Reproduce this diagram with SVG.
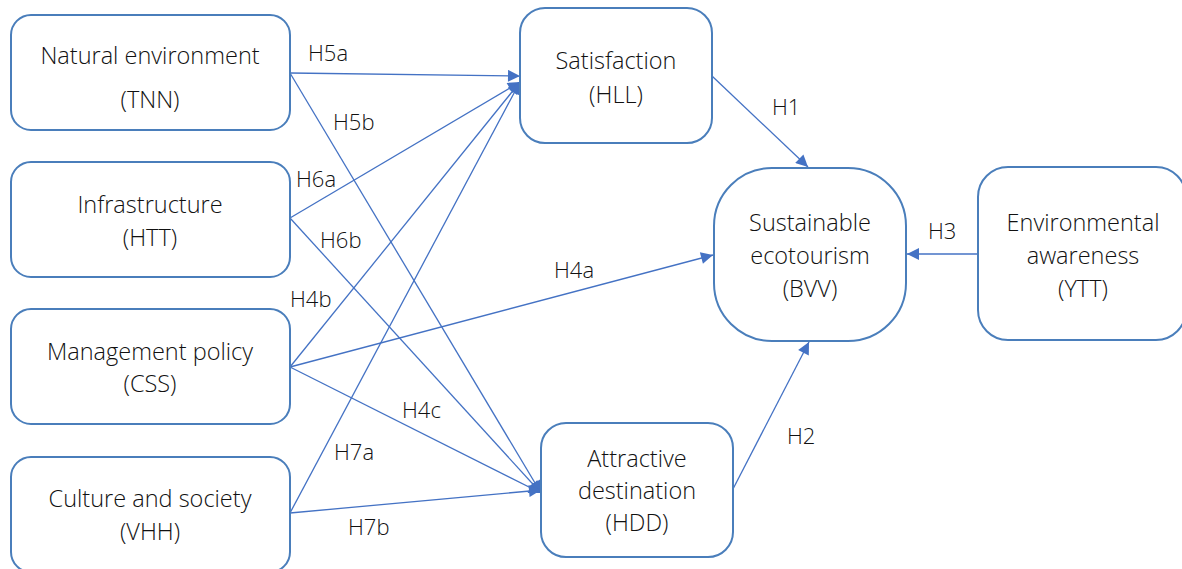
<svg xmlns="http://www.w3.org/2000/svg" width="1182" height="569" viewBox="0 0 1182 569">
<style>
.box{fill:#fff;stroke:#4a7ebb;stroke-width:2}
.t{font-family:"Open Sans","Liberation Sans",sans-serif;font-weight:300;font-size:23.5px;fill:#111;text-anchor:middle}
.l{font-family:"Open Sans","Liberation Sans",sans-serif;font-weight:300;font-size:22px;fill:#111}
.c{stroke:#4472c4;stroke-width:1.3;fill:none;marker-end:url(#a)}
</style>
<defs>
<marker id="a" viewBox="0 0 10 10" refX="10" refY="5" markerWidth="13" markerHeight="12" markerUnits="userSpaceOnUse" orient="auto">
<path d="M0,0 L10,5 L0,10 z" fill="#4472c4"/>
</marker>
</defs>
<rect width="1182" height="569" fill="#fff"/>
<g id="connectors">
<line class="c" x1="290" y1="73" x2="520" y2="76"/>
<line class="c" x1="290" y1="73" x2="541" y2="493"/>
<line class="c" x1="290" y1="218" x2="520" y2="82"/>
<line class="c" x1="290" y1="218" x2="541" y2="493"/>
<line class="c" x1="290" y1="367" x2="520" y2="82"/>
<line class="c" x1="290" y1="367" x2="713" y2="255"/>
<line class="c" x1="290" y1="367" x2="541" y2="493"/>
<line class="c" x1="290" y1="513" x2="520" y2="82"/>
<line class="c" x1="290" y1="513" x2="541" y2="490"/>
<line class="c" x1="712" y1="76" x2="808" y2="167"/>
<line class="c" x1="733" y1="489" x2="809" y2="342"/>
<line class="c" x1="978" y1="254" x2="907" y2="254"/>
</g>
<g id="labels">
<text class="l" x="308" y="61">H5a</text>
<text class="l" x="333" y="130">H5b</text>
<text class="l" x="296" y="187">H6a</text>
<text class="l" x="320" y="248">H6b</text>
<text class="l" x="290" y="307">H4b</text>
<text class="l" x="554" y="278">H4a</text>
<text class="l" x="402" y="418">H4c</text>
<text class="l" x="334" y="460">H7a</text>
<text class="l" x="348" y="535">H7b</text>
<text class="l" x="772" y="115">H1</text>
<text class="l" x="787" y="444">H2</text>
<text class="l" x="928" y="239">H3</text>
</g>
<g id="TNN">
<rect class="box" x="11" y="15" width="279" height="115" rx="20"/>
<text class="t" x="150" y="64">Natural environment</text>
<text class="t" x="150" y="108">(TNN)</text>
</g>
<g id="HTT">
<rect class="box" x="11" y="162" width="279" height="115" rx="20"/>
<text class="t" x="150" y="213">Infrastructure</text>
<text class="t" x="150" y="246">(HTT)</text>
</g>
<g id="CSS">
<rect class="box" x="11" y="309" width="279" height="115" rx="20"/>
<text class="t" x="150" y="360">Management policy</text>
<text class="t" x="150" y="392">(CSS)</text>
</g>
<g id="VHH">
<rect class="box" x="11" y="457" width="279" height="115" rx="20"/>
<text class="t" x="150" y="507">Culture and society</text>
<text class="t" x="150" y="540">(VHH)</text>
</g>
<g id="HLL">
<rect class="box" x="520" y="8" width="192" height="135" rx="25"/>
<text class="t" x="616" y="69">Satisfaction</text>
<text class="t" x="616" y="103">(HLL)</text>
</g>
<g id="BVV">
<rect class="box" x="714" y="168" width="192" height="173" rx="58"/>
<text class="t" x="810" y="231">Sustainable</text>
<text class="t" x="810" y="264">ecotourism</text>
<text class="t" x="810" y="297">(BVV)</text>
</g>
<g id="YTT">
<rect class="box" x="978" y="167" width="208" height="173" rx="30"/>
<text class="t" x="1083" y="231">Environmental</text>
<text class="t" x="1083" y="264">awareness</text>
<text class="t" x="1083" y="297">(YTT)</text>
</g>
<g id="HDD">
<rect class="box" x="541" y="423" width="192" height="134" rx="25"/>
<text class="t" x="637" y="467">Attractive</text>
<text class="t" x="637" y="499">destination</text>
<text class="t" x="637" y="531">(HDD)</text>
</g>
</svg>
